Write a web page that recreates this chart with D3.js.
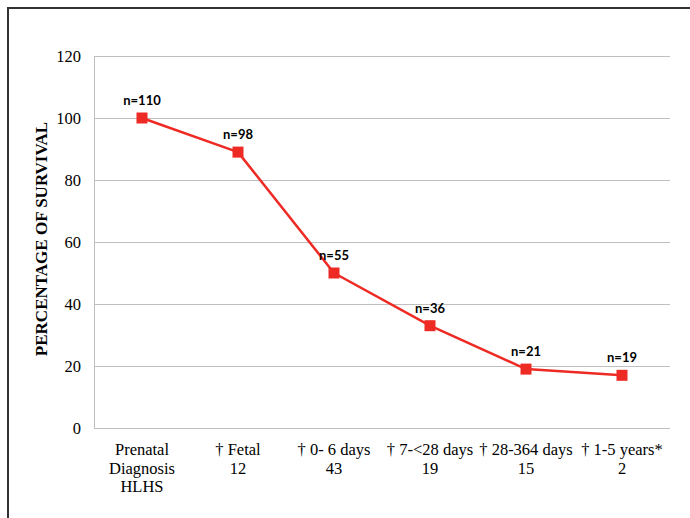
<!DOCTYPE html>
<html>
<head>
<meta charset="utf-8">
<script src="https://cdn.jsdelivr.net/npm/d3@7"></script>
<style>
  body { margin: 0; background: #fff; }
</style>
</head>
<body>
<svg id="chart" width="690" height="518"></svg>
<script>
// data
const stages = [
  ['Prenatal', 'Diagnosis', 'HLHS'],
  ['† Fetal', '12'],
  ['† 0- 6 days', '43'],
  ['† 7-<28 days', '19'],
  ['† 28-364 days', '15'],
  ['† 1-5 years*', '2'],
]
const survival = [100, 89, 50, 33, 19, 17]
const counts = ['n=110', 'n=98', 'n=55', 'n=36', 'n=21', 'n=19']
const yTicks = [0, 20, 40, 60, 80, 100, 120]

const width = 690
const height = 518
const margin = { top: 56, right: 20, bottom: 90, left: 94 }
const chartWidth = 670 - margin.left
const chartHeight = 428 - margin.top

const data = survival.map((v, i) => ({ key: i, value: v, label: counts[i], stage: stages[i] }))

const svg = d3.select('#chart')

// outer frame
svg.append('path')
  .attr('d', `M8,${height} L8,8 L${width},8`)
  .attr('fill', 'none')
  .attr('stroke', '#333')
  .attr('stroke-width', 2)

const g = svg.append('g')
  .attr('transform', `translate(${margin.left},${margin.top})`)

const x = d3.scaleBand()
  .domain(data.map((d) => d.key))
  .range([0, chartWidth])
  .padding(0)

const y = d3.scaleLinear()
  .domain([0, 120])
  .range([chartHeight, 0])

// gridlines
g.append('g')
  .selectAll('line')
  .data(yTicks)
  .join('line')
  .attr('x1', 0)
  .attr('x2', chartWidth)
  .attr('y1', (d) => Math.round(y(d)) + 0.5)
  .attr('y2', (d) => Math.round(y(d)) + 0.5)
  .attr('stroke', '#bfbfbf')
  .attr('stroke-width', 1)

// left axis line
g.append('line')
  .attr('x1', 0.5).attr('x2', 0.5)
  .attr('y1', 0).attr('y2', chartHeight + 0.5)
  .attr('stroke', '#bfbfbf')

// y tick labels
g.append('g')
  .selectAll('text')
  .data(yTicks)
  .join('text')
  .attr('x', -13)
  .attr('y', (d) => y(d))
  .attr('dy', '0.35em')
  .attr('text-anchor', 'end')
  .style('font-family', '"Liberation Serif", "Times New Roman", serif')
  .style('font-size', '16.5px')
  .attr('fill', '#000')
  .text((d) => d)

// y axis title
svg.append('text')
  .attr('transform', `translate(47,${margin.top + chartHeight / 2 - 3}) rotate(-90)`)
  .attr('text-anchor', 'middle')
  .style('font-family', '"Liberation Serif", "Times New Roman", serif')
  .style('font-size', '17px')
  .style('font-weight', 'bold')
  .attr('fill', '#000')
  .text('PERCENTAGE OF SURVIVAL')

// x category labels
const xLabels = g.append('g')
  .selectAll('text')
  .data(data)
  .join('text')
  .attr('x', (d) => x(d.key) + x.bandwidth() / 2)
  .attr('y', chartHeight + 27)
  .attr('text-anchor', 'middle')
  .style('font-family', '"Liberation Serif", "Times New Roman", serif')
  .style('font-size', '16.5px')
  .attr('fill', '#000')

xLabels.selectAll('tspan')
  .data((d) => d.stage.map((s) => ({ s, cx: x(d.key) + x.bandwidth() / 2 })))
  .join('tspan')
  .attr('x', (d) => d.cx)
  .attr('dy', (d, i) => (i === 0 ? 0 : 18.5))
  .text((d) => d.s)

// line
const line = d3.line()
  .x((d) => x(d.key) + x.bandwidth() / 2)
  .y((d) => y(d.value))

g.append('path')
  .datum(data)
  .attr('d', line)
  .attr('fill', 'none')
  .attr('stroke', '#ee2a24')
  .attr('stroke-width', 2.5)
  .attr('stroke-linejoin', 'round')

// square markers
const ms = 11
g.append('g')
  .selectAll('rect')
  .data(data)
  .join('rect')
  .attr('x', (d) => x(d.key) + x.bandwidth() / 2 - ms / 2)
  .attr('y', (d) => y(d.value) - ms / 2)
  .attr('width', ms)
  .attr('height', ms)
  .attr('fill', '#ee2a24')

// n= labels
g.append('g')
  .selectAll('text')
  .data(data)
  .join('text')
  .attr('x', (d) => x(d.key) + x.bandwidth() / 2)
  .attr('y', (d) => y(d.value) - 13)
  .attr('text-anchor', 'middle')
  .style('font-family', 'Lato, "Open Sans", sans-serif')
  .style('font-size', '13px')
  .style('font-weight', 'bold')
  .attr('fill', '#000')
  .text((d) => d.label)
</script>
</body>
</html>
